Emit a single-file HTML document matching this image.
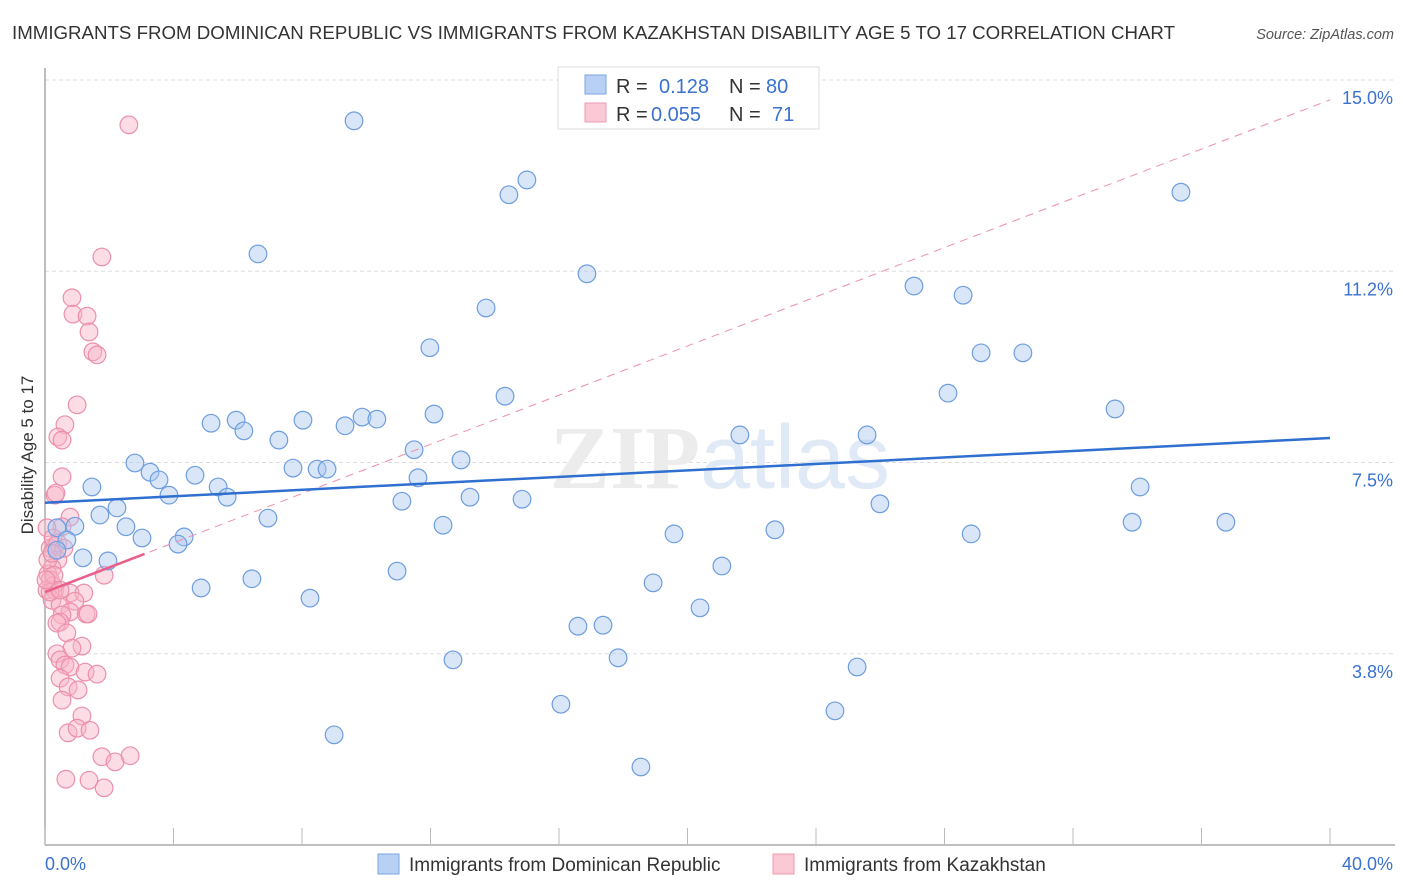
<!DOCTYPE html>
<html><head><meta charset="utf-8"><style>
body{margin:0;background:#fff;font-family:"Liberation Sans",sans-serif;}
svg{display:block}
</style></head><body>
<svg width="1406" height="892" xmlns="http://www.w3.org/2000/svg" font-family="Liberation Sans, sans-serif">
<text x="12" y="39" font-size="18" fill="#333" textLength="1163" lengthAdjust="spacingAndGlyphs">IMMIGRANTS FROM DOMINICAN REPUBLIC VS IMMIGRANTS FROM KAZAKHSTAN DISABILITY AGE 5 TO 17 CORRELATION CHART</text>
<text x="1394" y="39" font-size="14.5" fill="#555" text-anchor="end" font-style="italic">Source: ZipAtlas.com</text>
<g id="grid"></g>
<text x="720" y="488" font-size="90" text-anchor="middle" fill="#ececec" font-family="Liberation Serif, serif" font-weight="bold">ZIP<tspan fill="#e0e9f6" font-family="Liberation Sans, sans-serif" font-weight="normal">atlas</tspan></text>
<text transform="translate(33,455) rotate(-90)" font-size="17" fill="#333" text-anchor="middle">Disability Age 5 to 17</text>
<g id="points"></g>
<g id="lines"></g>
<g>
<rect x="558" y="67" width="261" height="62" fill="#fff" stroke="#ddd"/>
<rect x="585" y="75" width="21" height="19" fill="#b8d0f4" stroke="#7ba3e0"/>
<rect x="585" y="103" width="21" height="19" fill="#fbc8d6" stroke="#ee9ab3"/>
<text x="616" y="93" font-size="20" fill="#333">R = </text><text x="659" y="93" font-size="20" fill="#3a72d0">0.128</text>
<text x="729" y="93" font-size="20" fill="#333">N = </text><text x="766" y="93" font-size="20" fill="#3a72d0">80</text>
<text x="616" y="121" font-size="20" fill="#333">R = </text><text x="651" y="121" font-size="20" fill="#3a72d0">0.055</text>
<text x="729" y="121" font-size="20" fill="#333">N = </text><text x="772" y="121" font-size="20" fill="#3a72d0">71</text>
</g>
<g>
<rect x="378" y="854" width="21" height="20" fill="#b8d0f4" stroke="#7ba3e0"/>
<text x="409" y="871" font-size="19" fill="#333">Immigrants from Dominican Republic</text>
<rect x="773" y="854" width="21" height="20" fill="#fbc8d6" stroke="#ee9ab3"/>
<text x="804" y="871" font-size="19" fill="#333">Immigrants from Kazakhstan</text>
</g>
</svg>
<script>
const yTicks=[15.0,11.25,7.5,3.75];
const yTickLabels=["15.0%","11.2%","7.5%","3.8%"];
const xTickCount=10;
const blueX=[9.62,14.44,15.00,35.36,6.63,16.87,27.05,28.58,13.73,11.98,29.14,30.44,14.32,28.11,33.31,5.17,5.95,6.19,8.03,7.28,9.34,9.87,10.33,12.11,11.49,21.63,25.59,2.80,3.27,3.55,4.67,7.72,8.47,8.78,12.95,11.61,1.46,5.39,5.67,3.86,13.23,14.85,11.11,25.99,34.09,2.24,1.71,6.94,2.52,0.37,0.93,12.39,33.84,36.76,19.58,22.72,28.83,0.68,3.02,4.33,4.14,0.37,1.18,1.96,10.96,21.07,6.44,18.93,4.86,8.25,20.39,16.59,17.37,12.70,17.84,25.28,16.06,24.59,9.00,18.55];
const blueY=[14.20,12.75,13.04,12.80,11.59,11.20,10.96,10.78,10.53,9.75,9.65,9.65,8.80,8.86,8.55,8.27,8.33,8.12,8.33,7.94,8.22,8.39,8.35,8.45,7.75,8.04,8.04,7.49,7.31,7.16,7.25,7.39,7.37,7.37,7.55,7.20,7.02,7.02,6.82,6.86,6.82,6.78,6.74,6.69,7.02,6.61,6.47,6.41,6.24,6.22,6.25,6.27,6.33,6.33,6.10,6.18,6.10,5.98,6.02,6.04,5.90,5.78,5.63,5.57,5.37,5.47,5.22,5.14,5.04,4.84,4.65,4.29,4.31,3.63,3.67,3.49,2.76,2.63,2.16,1.53];
const pinkX=[2.61,1.77,0.84,0.87,1.31,1.37,1.49,1.62,1.00,0.62,0.40,0.53,0.53,0.31,0.34,0.78,0.53,0.31,0.16,0.40,0.22,0.09,0.16,0.25,0.06,0.31,1.84,0.78,1.21,0.22,0.93,0.47,0.78,1.28,1.34,0.53,0.47,0.37,0.68,1.15,0.84,0.37,0.47,0.62,0.78,1.25,1.62,0.47,0.72,1.03,0.53,1.15,0.72,1.00,1.40,0.65,1.37,1.77,2.18,2.65,1.84,0.16,0.09,0.28,0.03,0.47,0.06,0.25,0.40,0.59,0.22];
const pinkY=[14.12,11.53,10.73,10.41,10.37,10.06,9.67,9.61,8.63,8.24,8.00,7.94,7.22,6.86,6.90,6.43,6.24,5.86,5.82,5.59,5.43,5.31,5.20,5.08,5.00,5.00,5.29,4.94,4.94,4.80,4.78,4.71,4.57,4.53,4.53,4.51,4.37,4.35,4.16,3.90,3.86,3.75,3.63,3.53,3.49,3.39,3.35,3.27,3.10,3.04,2.84,2.53,2.20,2.29,2.25,1.29,1.27,1.73,1.63,1.75,1.12,4.96,5.59,5.29,5.20,5.00,6.22,6.02,5.92,5.82,5.72];
const blueTrend=[6.71,7.98];
const pinkTrend=[4.96,14.61];
const pinkSolidEnd=3.1;
const NS="http://www.w3.org/2000/svg";
const sx=v=>45+v*(1285/40);
const sy=v=>845-v*51;
function mk(tag,attrs,parent){const e=document.createElementNS(NS,tag);for(const k in attrs)e.setAttribute(k,attrs[k]);parent.appendChild(e);return e;}
const grid=document.getElementById('grid');
yTicks.forEach((t,i)=>{
 const l=mk('line',{x1:45,x2:1395,y1:sy(t),y2:sy(t),stroke:'#ddd','stroke-dasharray':'4,3'},grid);
 
 
 const tx=mk('text',{x:1393,y:sy(t)+24,'font-size':18,fill:'#3a72d0','text-anchor':'end'},grid);
 tx.textContent=yTickLabels[i];
 
 
});
const ax=mk('line',{x1:45,x2:1395,y1:845,y2:845,stroke:'#aaa','stroke-width':1.5},grid);


const ay=mk('line',{x1:45,x2:45,y1:68,y2:845,stroke:'#aaa','stroke-width':1.5},grid);


for(let i=0;i<=xTickCount;i++){
 const x=sx(i*40/xTickCount);
 const t=mk('line',{x1:x,x2:x,y1:828,y2:845,stroke:'#bbb'},grid);
 
 
}
const xl0=mk('text',{x:45,y:870,'font-size':18,fill:'#3a72d0'},grid);xl0.textContent='0.0%';


const xl1=mk('text',{x:1393,y:870,'font-size':18,fill:'#3a72d0','text-anchor':'end'},grid);xl1.textContent='40.0%';


const pts=document.getElementById('points');
pinkX.forEach((x,i)=>{
 const c=mk('circle',{cx:sx(x),cy:sy(pinkY[i]),r:8.8,fill:'rgba(248,180,200,0.45)',stroke:'#ec8fab','stroke-width':1.2},pts);
 
 
});
blueX.forEach((x,i)=>{
 const c=mk('circle',{cx:sx(x),cy:sy(blueY[i]),r:8.8,fill:'rgba(170,200,240,0.45)',stroke:'#6e9de0','stroke-width':1.2},pts);
 
 
});
const ln=document.getElementById('lines');
const pd=mk('line',{x1:sx(0),y1:sy(pinkTrend[0]),x2:sx(40),y2:sy(pinkTrend[1]),stroke:'#ec8fab','stroke-width':1,'stroke-dasharray':'8,6'},ln);


const ps=mk('line',{x1:sx(0),y1:sy(pinkTrend[0]),x2:sx(pinkSolidEnd),y2:sy(pinkTrend[0]+(pinkTrend[1]-pinkTrend[0])*pinkSolidEnd/40),stroke:'#e8608a','stroke-width':2.5},ln);


const bl=mk('line',{x1:sx(0),y1:sy(blueTrend[0]),x2:sx(40),y2:sy(blueTrend[1]),stroke:'#2f6fd0','stroke-width':2.5},ln);


</script>
</body></html>
